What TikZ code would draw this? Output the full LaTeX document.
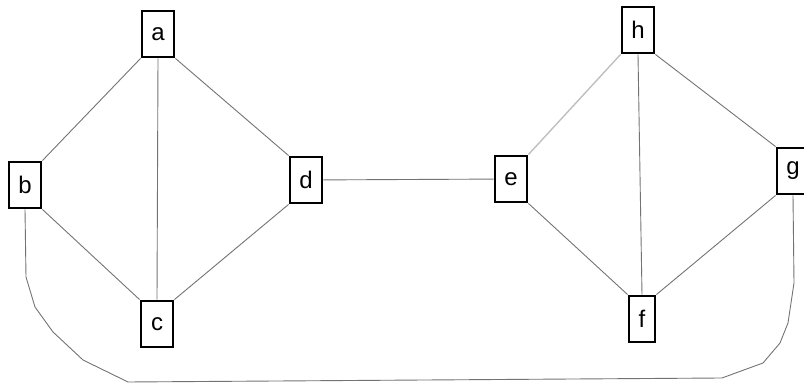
\documentclass[tikz,border=0pt]{standalone}
\usepackage{fontspec}
\setmainfont{Liberation Sans}
\usepackage{tikz}

\tikzset{
  vert/.style={draw,line width=1.4pt,minimum width=16pt,minimum height=23pt,inner sep=0pt,fill=white},
  edge/.style={draw=black!55,line width=0.45pt}
}

\begin{document}
\begin{tikzpicture}[x=0.5pt,y=-0.5pt,font=\large]
\path[use as bounding box] (0,0) rectangle (804,384);

% vertices
\node[vert] (a) at (158,34) {a};
\node[vert] (b) at (25,185) {b};
\node[vert] (c) at (157,324) {c};
\node[vert] (d) at (306,180) {d};
\node[vert] (e) at (511,179) {e};
\node[vert] (h) at (638,30) {h};
\node[vert] (g) at (793,171) {g};
\node[vert,minimum width=13pt] (f) at (642,319) {f};

% left part
\draw[edge] (a.south west) -- (b.north east);
\draw[edge] (a.south) -- (c.north);
\draw[edge] (a.south east) -- (d.north west);
\draw[edge] (b.south east) -- (c.north west);
\draw[edge] (c.north east) -- (d.south west);

% bridge
\draw[edge] (d) -- (e);

% right part
\draw[edge,draw=black!25,line width=0.7pt] (e.north east) -- (h.south west);
\draw[edge] (h.south) -- (f.north);
\draw[edge] (h.south east) -- (g.north west);
\draw[edge] (e.south east) -- (f.north west);
\draw[edge] (f.north east) -- (g.south west);

% long way round
\draw[edge] (b.south) -- (26,277) -- (35,307) -- (53,332) -- (83,360) -- (128,382)
  -- (722,378) -- (763,363) -- (780,343) -- (788,323) -- (794,283) -- (g.south);
\end{tikzpicture}
\end{document}
